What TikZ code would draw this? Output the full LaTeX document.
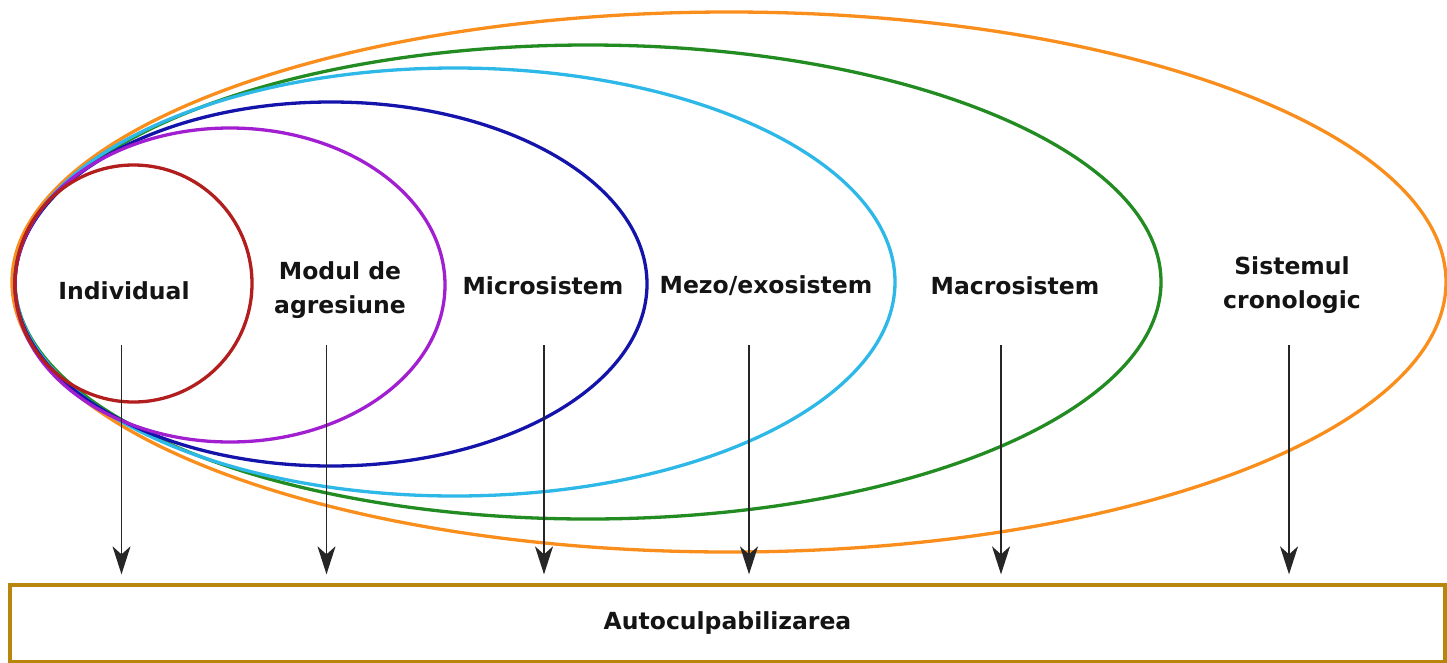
\documentclass[tikz,border=0pt]{standalone}
\usepackage{fontspec}
\setmainfont{DejaVu Sans}
\usetikzlibrary{arrows.meta}
\definecolor{cred}{HTML}{B21E1E}
\definecolor{cpurple}{HTML}{A11FD0}
\definecolor{cblue}{HTML}{1414AA}
\definecolor{ccyan}{HTML}{2DB8E8}
\definecolor{cgreen}{HTML}{228B22}
\definecolor{corange}{HTML}{F98E1D}
\definecolor{cgold}{HTML}{B8860B}
\tikzset{
  ring/.style={line width=3.3pt},
  lbl/.style={font=\bfseries\fontsize{23.5}{34}\selectfont, align=center, text=black!92, inner sep=0pt},
  flow/.style={line width=1.6pt, draw=black!85, -{Stealth[length=28pt,width=18pt,inset=8pt]}, shorten >=9pt},
  sinkbox/.style={draw=cgold, line width=3.3pt, minimum width=1435pt, minimum height=77pt, inner sep=0pt}
}
\begin{document}
\begin{tikzpicture}[x=1pt,y=-1pt]
\useasboundingbox (0,0) rectangle (1447,662);
\draw[ring, corange] (729,282) ellipse [x radius=717pt, y radius=270pt];
\draw[ring, cgreen] (588,282) ellipse [x radius=573pt, y radius=237pt];
\draw[ring, ccyan] (455,282) ellipse [x radius=440pt, y radius=214pt];
\draw[ring, cblue] (331,284) ellipse [x radius=316pt, y radius=182pt];
\draw[ring, cpurple] (230,285) ellipse [x radius=215pt, y radius=157pt];
\draw[ring, cred] (133.5,283.5) ellipse [x radius=118.5pt, y radius=118.5pt];

\node[lbl] (l1) at (124,291) {Individual};
\node[lbl] (l2) at (340,290) {Modul de\\agresiune};
\node[lbl] (l3) at (543,286) {Microsistem};
\node[lbl] (l4) at (766,286) {Mezo/exosistem};
\node[lbl] (l5) at (1015,286) {Macrosistem};
\node[lbl] (l6) at (1292,285) {Sistemul\\cronologic};

\node[sinkbox, lbl] (box) at (727.5,623.5) {Autoculpabilizarea};

\coordinate (s1) at (121.5,345);
\coordinate (s2) at (326.5,345);
\coordinate (s3) at (544,345);
\coordinate (s4) at (749,345);
\coordinate (s5) at (1001,345);
\coordinate (s6) at (1289,345);
\foreach \s in {s1,s2,s3,s4,s5,s6}
  \draw[flow] (\s) -- (\s |- box.north);
\end{tikzpicture}
\end{document}
